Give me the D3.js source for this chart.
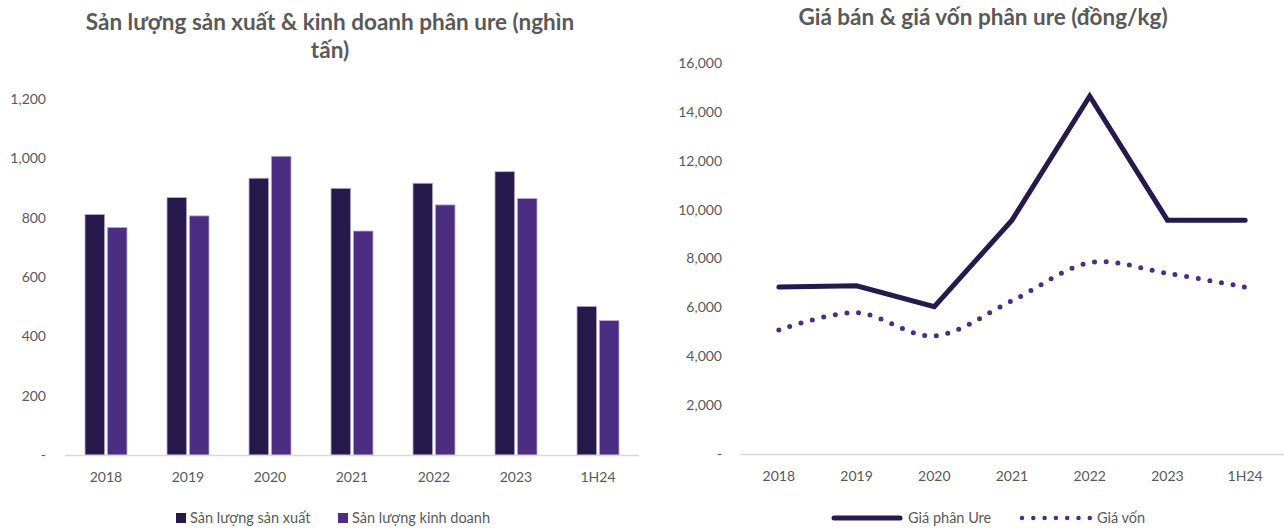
<!DOCTYPE html>
<html>
<head>
<meta charset="utf-8">
<script src="https://cdn.jsdelivr.net/npm/d3@7"></script>
<style>
  body { margin: 0; background: #fff; }
  text { font-family: Lato, "Open Sans", sans-serif; fill: #595959; }
</style>
</head>
<body>
<svg id="chart" width="1284" height="529"></svg>
<script>
const categories = ["2018", "2019", "2020", "2021", "2022", "2023", "1H24"]

// san luong (nghin tan)
const sanXuat = [811, 868, 933, 899, 916, 955, 501]
const kinhDoanh = [767, 806, 1007, 755, 843, 865, 453]
const volTicks = [0, 200, 400, 600, 800, 1000, 1200]

// gia (dong/kg)
const giaUre = [6830, 6885, 6025, 9570, 14640, 9570, 9570]
const giaVon = [5070, 5780, 4830, 6270, 7825, 7390, 6830]
const priceTicks = [0, 2000, 4000, 6000, 8000, 10000, 12000, 14000, 16000]

const dark = "#261a4d"
const purple = "#4b2d82"
const fmt = d => d === 0 ? "-" : d3.format(",")(d)

const svg = d3.select("#chart")

// ---------- left: bars ----------
const left = svg.append("g")

const x0 = d3.scaleBand()
  .domain(categories)
  .range([65, 639])
  .paddingInner(0.488)
  .paddingOuter(0.244)

const series = ["sx", "kd"]
const x1 = d3.scaleBand()
  .domain(series)
  .range([0, x0.bandwidth()])
  .paddingInner(0.12)

const yL = d3.scaleLinear().domain([0, 1200]).range([455, 99])

left.append("text")
  .attr("x", 330).attr("y", 30)
  .attr("text-anchor", "middle")
  .style("font-size", "22.5px").style("font-weight", "bold")
  .text("Sản lượng sản xuất & kinh doanh phân ure (nghìn")
left.append("text")
  .attr("x", 330).attr("y", 58)
  .attr("text-anchor", "middle")
  .style("font-size", "22.5px").style("font-weight", "bold")
  .text("tấn)")

left.append("g").selectAll("text")
  .data(volTicks)
  .join("text")
    .attr("x", 46)
    .attr("y", d => yL(d))
    .attr("dy", "0.35em")
    .attr("text-anchor", "end")
    .style("font-size", "14px")
    .text(fmt)

const groups = left.append("g").selectAll("g")
  .data(categories)
  .join("g")
    .attr("transform", d => `translate(${x0(d)},0)`)

groups.selectAll("rect")
  .data((d, i) => [{k: "sx", v: sanXuat[i]}, {k: "kd", v: kinhDoanh[i]}])
  .join("rect")
    .attr("x", d => x1(d.k))
    .attr("width", x1.bandwidth())
    .attr("y", d => yL(d.v))
    .attr("height", d => yL(0) - yL(d.v))
    .attr("fill", d => d.k === "sx" ? dark : purple)
    .attr("stroke", "#b9b1cf")
    .attr("stroke-width", 0.8)

left.append("line")
  .attr("x1", 65).attr("x2", 639)
  .attr("y1", 455.5).attr("y2", 455.5)
  .attr("stroke", "#d9d9d9").attr("stroke-width", 1.5)

left.append("g").selectAll("text")
  .data(categories)
  .join("text")
    .attr("x", d => x0(d) + x0.bandwidth() / 2)
    .attr("y", 482)
    .attr("text-anchor", "middle")
    .style("font-size", "14px")
    .text(d => d)

const legL = left.append("g").attr("transform", "translate(176,518)")
legL.append("rect").attr("x", 0).attr("y", -5).attr("width", 10).attr("height", 10).attr("fill", dark)
legL.append("text").attr("x", 14).attr("y", 0).attr("dy", "0.35em").style("font-size", "14.5px").text("Sản lượng sản xuất")
legL.append("rect").attr("x", 162).attr("y", -5).attr("width", 10).attr("height", 10).attr("fill", purple)
legL.append("text").attr("x", 176).attr("y", 0).attr("dy", "0.35em").style("font-size", "14.5px").text("Sản lượng kinh doanh")

// ---------- right: lines ----------
const right = svg.append("g")

const xR = d3.scalePoint()
  .domain(categories)
  .range([740, 1284])
  .padding(0.5)

const yR = d3.scaleLinear().domain([0, 16000]).range([454, 63])

right.append("text")
  .attr("x", 983).attr("y", 25)
  .attr("text-anchor", "middle")
  .style("font-size", "22.5px").style("font-weight", "bold")
  .text("Giá bán & giá vốn phân ure (đồng/kg)")

right.append("g").selectAll("text")
  .data(priceTicks)
  .join("text")
    .attr("x", 722)
    .attr("y", d => yR(d))
    .attr("dy", "0.35em")
    .attr("text-anchor", "end")
    .style("font-size", "14px")
    .text(fmt)

right.append("line")
  .attr("x1", 740).attr("x2", 1284)
  .attr("y1", 454.5).attr("y2", 454.5)
  .attr("stroke", "#d9d9d9").attr("stroke-width", 1.5)

right.append("g").selectAll("text")
  .data(categories)
  .join("text")
    .attr("x", d => xR(d))
    .attr("y", 481)
    .attr("text-anchor", "middle")
    .style("font-size", "14px")
    .text(d => d)

const lineStraight = d3.line()
  .x((d, i) => xR(categories[i]))
  .y(d => yR(d))

const lineSmooth = d3.line()
  .x((d, i) => xR(categories[i]))
  .y(d => yR(d))
  .curve(d3.curveCardinal.tension(0))

right.append("path")
  .attr("d", lineSmooth(giaVon))
  .attr("fill", "none")
  .attr("stroke", purple)
  .attr("stroke-width", 5)
  .attr("stroke-linecap", "round")
  .attr("stroke-dasharray", "0 11.7")

right.append("path")
  .attr("d", lineStraight(giaUre))
  .attr("fill", "none")
  .attr("stroke", dark)
  .attr("stroke-width", 5)
  .attr("stroke-linecap", "round")
  .attr("stroke-linejoin", "miter")

const legR = right.append("g").attr("transform", "translate(832,518)")
legR.append("line").attr("x1", 2).attr("x2", 68).attr("y1", 0).attr("y2", 0)
  .attr("stroke", dark).attr("stroke-width", 5).attr("stroke-linecap", "round")
legR.append("text").attr("x", 76).attr("y", 0).attr("dy", "0.35em").style("font-size", "14.5px").text("Giá phân Ure")
legR.append("line").attr("x1", 190).attr("x2", 258).attr("y1", 0).attr("y2", 0)
  .attr("stroke", purple).attr("stroke-width", 4.5).attr("stroke-linecap", "round")
  .attr("stroke-dasharray", "0 11.3")
legR.append("text").attr("x", 265).attr("y", 0).attr("dy", "0.35em").style("font-size", "14.5px").text("Giá vốn")
</script>
</body>
</html>
